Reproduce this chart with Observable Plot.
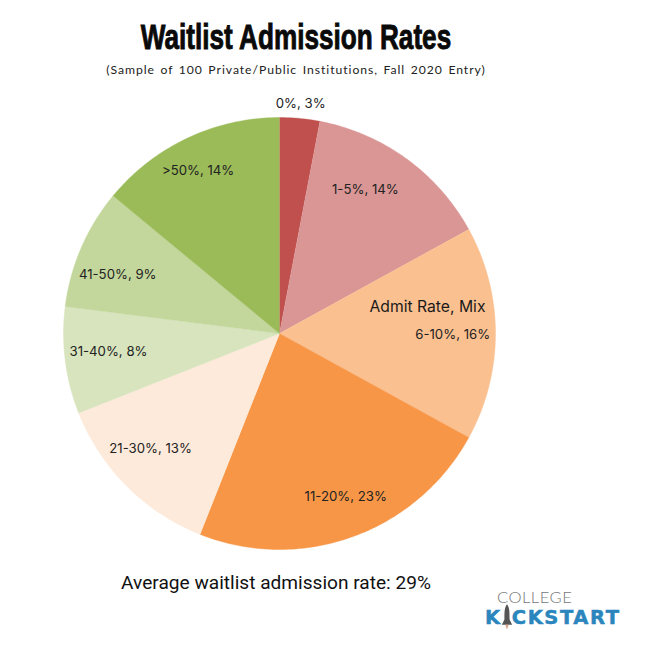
<!DOCTYPE html>
<html><head><meta charset="utf-8">
<script src="https://cdn.jsdelivr.net/npm/d3@7"></script>
<script src="https://cdn.jsdelivr.net/npm/@observablehq/plot@0.6"></script>
<style>
html,body{margin:0;background:#fff}
#wrap{position:relative;width:652px;height:645px;overflow:hidden}
#wrap>div,#wrap>svg{position:absolute}
#title{left:0;width:592px;top:17px;text-align:center;font:700 35px/40px "Liberation Sans",sans-serif;color:#0a0a0a;-webkit-text-stroke:.9px #0a0a0a;transform:scaleX(.747);transform-origin:296px 0;white-space:nowrap}
#sub{left:0;width:592px;top:62px;text-align:center;font:400 12.2px/16px Lato,sans-serif;letter-spacing:.95px;word-spacing:1.5px;color:#222}
#note{left:0;width:552px;top:571px;text-align:center;font:400 19.1px/24px Roboto,sans-serif;color:#111}
#logoA{left:497px;top:589px;font:300 16.5px/16px Lato,sans-serif;color:#777;letter-spacing:.5px}
#logoB{left:485px;top:602px;font:700 19.5px/26px "DejaVu Sans",sans-serif;color:#2b86bd;letter-spacing:1.6px;white-space:nowrap;-webkit-text-stroke:.5px #2b86bd}
#logoB svg{vertical-align:-8px;margin:0 -1px}
</style></head><body>
<div id="wrap">
<div id="chart" style="left:0;top:0"></div>
<div id="title">Waitlist Admission Rates</div>
<div id="sub">(Sample of 100 Private/Public Institutions, Fall 2020 Entry)</div>
<div id="note">Average waitlist admission rate: 29%</div>
<div id="logoA">COLLEGE</div>
<div id="logoB">K<svg width="12" height="30" viewBox="0 0 14 30"><path d="M7 0C10 4 10 8 10 18L13 24H1L4 18C4 8 4 4 7 0Z" fill="#555"/><path d="M5 24H9L7 30Z" fill="#d9a58c"/></svg>CKSTART</div>
</div>
<script>
const categories = ["0%","1-5%","6-10%","11-20%","21-30%","31-40%","41-50%",">50%"];
const shares = [3,14,16,23,13,8,9,14];
const colors = ["#C0504D","#D99694","#FAC090","#F79646","#FDEADA","#D7E4BD","#C3D69B","#9BBB59"];
const nudgeX = [7,-3,22,15,-22,-21,-23,-17];
const nudgeY = [-79,-21,1,21,8,-1,1,-26];

const total = d3.sum(shares);
const starts = d3.cumsum([0,...shares]);
const polar = (frac,r)=>({x:r*Math.sin(frac*2*Math.PI),y:r*Math.cos(frac*2*Math.PI)});
const outline = categories.flatMap((category,i)=>{
  const a=starts[i]/total,b=starts[i+1]/total,n=Math.ceil((b-a)*360);
  return [{category,x:0,y:0},...d3.range(n+1).map(k=>({category,...polar(a+(b-a)*k/n,1)}))];
});
const labels = categories.map((category,i)=>({
  category,text:`${category}, ${shares[i]}%`,
  ...polar((starts[i]+starts[i+1])/2/total,0.7),dx:nudgeX[i],dy:nudgeY[i]
}));
const R=216,cx=279,cy=333,W=652,H=645;
const chart = Plot.plot({
  width:W,height:H,margin:0,
  x:{domain:[-cx/R,(W-cx)/R],range:[0,W],axis:null},
  y:{domain:[(H-cy)/-R,cy/R],range:[H,0],axis:null},
  color:{domain:categories,range:colors},
  style:{background:"transparent"},
  marks:[
    Plot.line(outline,{x:"x",y:"y",z:"category",fill:"category",stroke:"category",strokeWidth:0.4,curve:"linear"}),
    ...labels.map(d=>Plot.text([d],{x:"x",y:"y",text:"text",dx:d.dx,dy:d.dy,fontSize:13.2,fontFamily:"Inter,sans-serif",fill:"#222"})),
    Plot.text(["Admit Rate, Mix"],{x:()=>0,y:()=>0,text:d=>d,dx:148,dy:-27,fontSize:15.7,fontFamily:"Inter,sans-serif",fill:"#1a1a1a"})
  ]
});
document.getElementById("chart").appendChild(chart);
</script>
</body></html>
